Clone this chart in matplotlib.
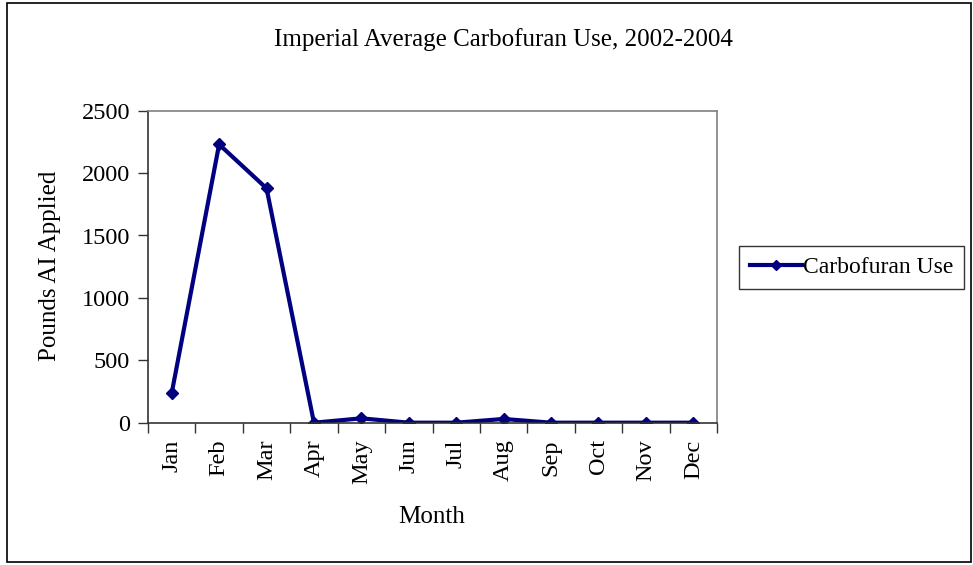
import matplotlib
matplotlib.use("Agg")
import matplotlib.pyplot as plt
from matplotlib.patches import Rectangle

months = ["Jan", "Feb", "Mar", "Apr", "May", "Jun",
          "Jul", "Aug", "Sep", "Oct", "Nov", "Dec"]
pounds = [237, 2230, 1878, 0, 35, 0, 0, 30, 0, 0, 0, 0]
yticks = [0, 500, 1000, 1500, 2000, 2500]

plt.rcParams['font.family'] = ['Liberation Serif', 'DejaVu Serif']

fig = plt.figure(figsize=(9.73, 5.65), dpi=100)
fig.patch.set_facecolor("white")

# outer chart border
fig.patches.append(Rectangle((7 / 973, 3 / 565), 964 / 973, 559 / 565,
                             transform=fig.transFigure, fill=False,
                             edgecolor="black", linewidth=1.2))

ax = fig.add_axes([148 / 973, 1 - 422.7 / 565, 569 / 973, 312 / 565])
x = list(range(len(months)))
ax.plot(x, pounds, color="#000080", linewidth=3, marker="D",
        markersize=6, label="Carbofuran Use", solid_joinstyle="miter")

ax.set_xlim(-0.5, len(months) - 0.5)
ax.set_ylim(0, 2500)
ax.set_yticks(yticks)
ax.set_yticklabels([str(v) for v in yticks], fontsize=17.5)
ax.set_xticks(x)
ax.set_xticklabels(months, rotation=90, fontsize=17.5)
ax.tick_params(axis="x", which="major", length=0, pad=12)
ax.set_xticks([i - 0.5 for i in range(len(months) + 1)], minor=True)
ax.tick_params(axis="x", which="minor", length=7, direction="out",
               color="#333333", width=1)
ax.tick_params(axis="y", length=7, direction="out", color="#333333",
               width=1, pad=6)

for side in ("top", "right"):
    ax.spines[side].set_color("#808080")
    ax.spines[side].set_linewidth(1.2)
for side in ("left", "bottom"):
    ax.spines[side].set_color("#333333")
    ax.spines[side].set_linewidth(1.2)

fig.text(503 / 973, 1 - 40 / 565, "Imperial Average Carbofuran Use, 2002-2004",
         ha="center", va="center", fontsize=18)
fig.text(432 / 973, 1 - 517 / 565, "Month", ha="center", va="center",
         fontsize=18)
fig.text(50 / 973, 1 - 266 / 565, "Pounds AI Applied", ha="center",
         va="center", rotation=90, fontsize=18)

leg = fig.legend(loc="center", bbox_to_anchor=(851.5 / 973, 1 - 267.5 / 565),
                 fontsize=17, frameon=True, fancybox=False, shadow=False,
                 borderpad=0.45, handlelength=2.2, handletextpad=0.05,
                 borderaxespad=0, markerscale=0.8)
leg.get_frame().set_edgecolor("black")
leg.get_frame().set_linewidth(1.0)

fig.savefig("out.png", dpi=100)
